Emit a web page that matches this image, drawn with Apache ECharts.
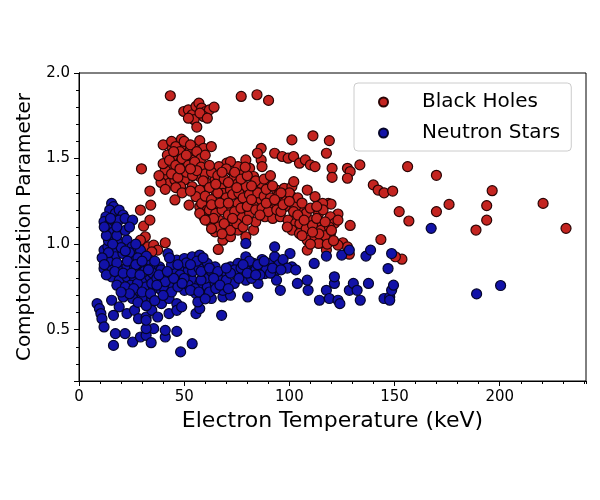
<!DOCTYPE html>
<html>
<head>
<meta charset="utf-8">
<script src="https://cdn.jsdelivr.net/npm/echarts@6/dist/echarts.min.js"></script>
<style>
html, body { margin: 0; padding: 0; background: #fff; }
#chart { width: 600px; height: 500px; }
</style>
</head>
<body>
<div id="chart"></div>
<script>
// [electron temperature keV, comptonization parameter]
var blackHoles = [
    [43.4,1.867],[77.1,1.863],[84.6,1.873],[90.1,1.84],
    [49.8,1.775],[52,1.785],[53.8,1.756],[55.6,1.805],[57,1.824],[58.3,1.795],[60.2,1.775],[62,1.785],[64.2,1.80],[59.2,1.746],[54.7,1.727],[56,1.684],[52,1.736],[57.5,1.766],[61,1.736],
    [48.7,1.613],[43.8,1.574],[46.6,1.55],[50.1,1.57],[52.9,1.55],[55.6,1.57],[57.4,1.605],[59.2,1.56],[62.9,1.57],[45.6,1.51],[48.3,1.48],[52,1.51],[54.7,1.49],[50.8,1.453],[47.4,1.434],[43.7,1.453],[41,1.395],[42.8,1.355],[45.6,1.375],[41,1.434],[55.6,1.443],
    [29.7,1.44],[33.7,1.31],[34.1,1.228],[29.2,1.199],[30.7,1.105],[31.5,1.043],[29.2,1.023],[33.7,1.14],[32.8,0.984],[35.5,0.994],[37.4,0.965],[34.6,0.955],[41,1.008],[45.6,1.258],[52.3,1.228],[66.2,0.969],
    [57.4,1.395],[61,1.355],[64.7,1.375],[67.5,1.336],[70.2,1.473],[72,1.434],[73.8,1.395],[75.6,1.453],[78.4,1.414],[81.1,1.443],[83,1.395],[86.6,1.492],[87,1.453],[86.6,1.56],[93,1.531],[96.6,1.512],[99.4,1.502],[102,1.512],[104.8,1.473],[107.6,1.492],[110,1.463],[112.2,1.453],[101.2,1.609],[111.2,1.633],[119,1.605],[117.6,1.531],[120.3,1.443],[120.3,1.39],[127.6,1.443],[128.9,1.424],[127.6,1.385],[133.5,1.463],[156.2,1.453],[169.9,1.402],[139.9,1.346],[142.2,1.316],[145,1.30],[149.1,1.31],[196.4,1.312],[175.9,1.232],[193.8,1.225],[193.8,1.14],[188.7,1.082],[169.9,1.19],[152.2,1.19],[156.8,1.135],[220.6,1.238],[231.5,1.092],[143.5,1.027],[153.5,0.912],[150.4,0.926],[128.9,1.109],[123.1,1.176],[118.5,1.238],[119.8,1.234],[125.4,1.008],[127.6,0.984],[128.5,0.941],
    [64.7,1.316],[68.4,1.297],[72,1.316],[75.6,1.355],[79.3,1.336],[83,1.316],[86.6,1.355],[90.3,1.336],[93.9,1.316],[97.6,1.326],[101.2,1.336],[102.1,1.365],
    [57.4,1.219],[61,1.258],[64.7,1.238],[68.4,1.248],[72,1.219],[75.6,1.238],[79.3,1.268],[83,1.238],[86.6,1.258],[90.3,1.219],[93.9,1.238],[97.6,1.258],[101.2,1.277],[103.9,1.238],
    [59.3,1.16],[62.9,1.121],[66.5,1.14],[70.2,1.102],[73.8,1.121],[77.5,1.16],[81.1,1.18],[88.4,1.16],[92.1,1.15],[95.7,1.16],[99.4,1.14],[103,1.121],[106.7,1.16],[110.3,1.14],[113.9,1.102],[117.6,1.121],
    [64.7,1.072],[68.4,1.023],[72,1.043],[75.6,1.082],[79.3,1.043],[83,1.082],[101.2,1.082],[104.8,1.062],[108.5,1.023],[112.2,1.043],[115.8,1.023],[119.5,1.062],[108.5,0.965],[117.6,0.965],[123.1,0.994],[113.9,1.004],
    [108.5,1.316],[112.2,1.277],[115.8,1.238],[106.7,1.199],[113.9,1.18],[103,1.219],[119.5,1.16],[121.4,1.121],[123.1,1.14],
    [50.1,1.375],[53.8,1.336],[57.4,1.316],[48.3,1.336],[55.6,1.277],[58.3,1.238],[61,1.199],[57.4,1.18],
    [66.5,1.453],[72,1.482],[79.3,1.492],[84.8,1.531],
    [40,1.58],[42,1.52],[44,1.60],[46,1.57],[48,1.54],[50,1.60],[53,1.58],[56,1.54],[58,1.50],[60,1.52],[40,1.47],[43,1.49],[46,1.46],[49,1.50],[52,1.46],[55,1.48],[58,1.45],[39,1.36],[44,1.41],[47,1.39],[51,1.42],[54,1.40],[60,1.41],[38,1.40],[41,1.32],[46,1.33],[49,1.30],[53,1.31],
    [56,1.43],[59,1.37],[62,1.33],[63,1.42],[66,1.40],[69,1.38],[70,1.44],[74,1.42],[77,1.38],[80,1.40],[84,1.37],[88,1.38],[91,1.40],[60,1.28],[63,1.26],[66,1.30],[70,1.27],[73,1.29],[76,1.30],[78,1.27],[81,1.29],[85,1.30],[88,1.28],[91,1.27],[62,1.20],[65,1.18],[68,1.20],[71,1.17],[74,1.19],[77,1.21],[80,1.22],[84,1.20],[87,1.21],[90,1.19],[94,1.20],[66,1.10],[69,1.12],[72,1.08],[75,1.12],[78,1.10],[64,1.15],[68,1.06],[84,1.13],[86,1.17],
    [95,1.29],[98,1.22],[100,1.30],[102,1.19],[104,1.27],[106,1.24],[108,1.18],[110,1.21],[105,1.12],[108,1.09],[111,1.11],[113,1.15],[115,1.08],[117,1.05],[119,1.10],[114,1.06],[118,1.00],[121,1.02],[110,1.00],[116,1.20],[96,1.19],[99,1.10],
    [45,1.54],[51,1.52],[48,1.44],[53,1.44],[62,1.46],[65,1.35],[68,1.42],[71,1.36],[75,1.33],[79,1.45],[82,1.34],[89,1.32],[92,1.34],[96,1.30],[63,1.23],[67,1.24],[71,1.24],[82,1.26],[89,1.24],[93,1.26],[97,1.23],[100,1.25],[60,1.14],[63,1.09],[73,1.15],[80,1.14],[104,1.17],[107,1.14],[111,1.07],[106,1.05],[113,1.22],[117,1.13],[120,1.08]
];

var neutronStars = [
    [15.5,1.238],[16.4,1.219],[14.6,1.199],[17.3,1.18],[19.1,1.199],[20.9,1.17],[12.8,1.16],[11.9,1.131],[14.6,1.121],[17.3,1.14],[13.7,1.092],[16.4,1.072],[19.1,1.14],[21.9,1.15],[25.5,1.14],
    [11.9,0.965],[13.7,0.984],[16.4,0.965],[19.1,1.004],[22.8,1.023],[25.2,0.984],[12.8,0.916],[17.3,0.926],[20.9,0.945],[26.4,0.926],[29.2,0.965],[11.9,0.857],[15.5,0.867],[19.1,0.848],[22.8,0.867],[26.4,0.867],[30.2,0.887],[33.7,0.906],[35.5,0.867],[37.4,0.828],[15.5,0.809],[19.1,0.789],[22.8,0.809],[26.4,0.799],[30.2,0.789],[33.7,0.809],[39.2,0.789],[41.9,0.809],[24.6,0.76],[28.3,0.73],[31.9,0.75],[35.5,0.74],[39.2,0.73],[42.8,0.77],[21,0.691],[25.5,0.682],[30.2,0.691],[34.6,0.682],[39.2,0.652],[42.8,0.682],[46.5,0.652],
    [8.6,0.652],[9.7,0.623],[10.4,0.594],[10.9,0.564],[11.9,0.516],[15.5,0.672],[16.4,0.584],[19.1,0.633],[22.8,0.594],[26.4,0.613],[28.3,0.564],[31.9,0.574],[34.6,0.613],[37.4,0.574],[42.8,0.594],[46.5,0.613],[48.8,0.633],[17.3,0.477],[21.9,0.477],[16.4,0.408],[25.5,0.428],[29.2,0.457],[31.9,0.467],[34.3,0.424],[35.5,0.506],[31.9,0.506],[41,0.457],[41,0.496],[46.5,0.49],[48.3,0.37],[53.8,0.418],[31.9,0.555],
    [42.3,0.945],[46.5,0.906],[50.1,0.916],[53.8,0.926],[57.4,0.936],[61,0.887],[64.7,0.867],[48.3,0.867],[52,0.848],[55.6,0.867],[59.2,0.828],[46.5,0.789],[50.1,0.77],[53.8,0.789],[57.4,0.77],[61,0.75],[64.7,0.77],[50.1,0.73],[55.6,0.711],[59.2,0.701],[62.9,0.682],[68.4,0.691],[72,0.701],[73.8,0.77],[68.4,0.73],[68.4,0.828],[72,0.867],[75.6,0.887],[79.3,0.926],[79.3,1.004],[83,0.887],[86.6,0.867],[90.3,0.887],[93,0.926],[93,0.984],[93.9,0.848],[97.6,0.867],[101.2,0.867],[100.3,0.945],[75.6,0.828],[79.3,0.789],[83,0.809],[79.3,0.848],[88.4,0.828],[93.9,0.789],[85.1,0.77],[80.2,0.691],[67.8,0.584],[55.6,0.594],[57.4,0.623],[56.5,0.662],[95.7,0.73],[103.8,0.77],[108.9,0.73],[111.8,0.887],[114.3,0.672],[117.6,0.73],[117.6,0.93],[119,0.682],[121.4,0.77],[123.1,0.672],[124,0.652],[124.9,0.936],[128.5,0.965],[128.5,0.73],[130.4,0.77],[132.2,0.73],[133.7,0.672],[136.4,0.93],[137.6,0.77],[138.6,0.965],[145,0.682],[146.9,0.857],[147.7,0.691],[148.6,0.73],[149.5,0.76],[148.6,0.945],[147.7,0.672],[167.4,1.092],[189,0.709],[200.4,0.758],[121.4,0.809],[108.5,0.789],
    [31,0.848],[34.6,0.77],[38.3,0.867],[27.8,0.77],[40.1,0.75],
    [14,1.02],[18,1.05],[22,1.08],[24,1.10],[13,1.05],[20,0.98],[24,0.95],[28,0.92],[32,0.93],[14,0.90],[18,0.89],[23,0.90],[27,0.88],[31,0.84],[35,0.83],[39,0.85],[13,0.82],[17,0.84],[21,0.83],[25,0.83],[29,0.82],[33,0.85],[37,0.80],[41,0.78],[18,0.76],[22,0.75],[26,0.74],[30,0.72],[34,0.71],[37,0.76],[44,0.72],[28,0.66],[32,0.64],[36,0.67],[40,0.70],[24,0.71],[20,0.72],
    [45,0.85],[48,0.82],[51,0.89],[54,0.84],[57,0.86],[60,0.80],[63,0.84],[66,0.80],[47,0.75],[52,0.76],[55,0.74],[58,0.79],[62,0.72],[65,0.74],[70,0.79],[50,0.80],[44,0.88],[56,0.90],[59,0.92],
    [74,0.85],[77,0.86],[81,0.90],[84,0.85],[87,0.91],[89,0.86],[91,0.83],[95,0.88],[97,0.91],[99,0.86],[103,0.85],[76,0.80],[72,0.83],[82,0.80],[86,0.82],
    [43,0.92],[47,0.88],[53,0.88],[58,0.84],[62,0.86],[66,0.84],[70,0.86],[45,0.80],[49,0.77],[53,0.73],[57,0.72],[60,0.68],[64,0.80],[67,0.76],[71,0.74],[78,0.88],[85,0.88],[88,0.90],[92,0.86],[96,0.85],[80,0.83],[84,0.82],[12,1.10],[15,1.15],[18,1.10],[16,1.00],[22,0.96],[27,1.00],[30,0.90],[36,0.90],[38,0.82],[42,0.84],[14,0.95],[11,0.92],[12,0.88]
];

var seriesNames = ['Black Holes', 'Neutron Stars'];
var xRange = [0, 241];
var yRange = [0.2, 2.0];

var FONT = 'DejaVu Sans';

var chart = echarts.init(document.getElementById('chart'), null, { renderer: 'canvas' });

var lineStyle = { color: '#000', width: 1 };

var option = {
    backgroundColor: '#fff',
    animation: false,
    grid: {
        left: 79, right: 14, top: 73, bottom: 119,
        show: true, borderColor: '#000', borderWidth: 1, backgroundColor: 'transparent'
    },
    legend: {
        data: seriesNames,
        orient: 'vertical',
        left: 354, top: 83,
        padding: [9, 11, 8, 24],
        itemGap: 11,
        itemWidth: 9, itemHeight: 9,
        icon: 'circle',
        backgroundColor: 'rgba(255,255,255,0.85)',
        borderColor: '#cccccc', borderWidth: 1, borderRadius: 4,
        textStyle: { fontFamily: FONT, fontSize: 20, color: '#000', padding: [0, 0, 0, 29] }
    },
    xAxis: [{
        // minor ticks
        type: 'value', min: xRange[0], max: xRange[1], interval: 10,
        axisLine: { lineStyle: lineStyle },
        axisTick: { length: 3, lineStyle: lineStyle },
        axisLabel: { show: false },
        splitLine: { show: false }
    }, {
        type: 'value', min: xRange[0], max: xRange[1], interval: 50, position: 'bottom',
        name: 'Electron Temperature (keV)', nameLocation: 'middle', nameGap: 28,
        nameTextStyle: { fontFamily: FONT, fontSize: 22, color: '#000' },
        axisLine: { lineStyle: lineStyle },
        axisTick: { length: 5, lineStyle: lineStyle },
        axisLabel: { fontFamily: FONT, fontSize: 15, color: '#000', margin: 9, showMaxLabel: false },
        splitLine: { show: false }
    }],
    yAxis: [{
        // minor ticks
        type: 'value', min: yRange[0], max: yRange[1], interval: 0.1,
        axisLine: { lineStyle: lineStyle },
        axisTick: { length: 3, lineStyle: lineStyle },
        axisLabel: { show: false },
        splitLine: { show: false }
    }, {
        type: 'value', min: yRange[0], max: yRange[1], splitNumber: 4, position: 'left',
        name: 'Comptonization Parameter', nameLocation: 'middle', nameGap: 42,
        nameTextStyle: { fontFamily: FONT, fontSize: 20, color: '#000' },
        axisLine: { lineStyle: lineStyle },
        axisTick: { length: 5, lineStyle: lineStyle },
        axisLabel: {
            fontFamily: FONT, fontSize: 15, color: '#000', margin: 9,
            formatter: function (v) {
                return Math.abs(v * 2 - Math.round(v * 2)) < 1e-6 ? v.toFixed(1) : '';
            }
        },
        splitLine: { show: false }
    }],
    series: [{
        name: seriesNames[0], type: 'scatter', data: blackHoles,
        xAxisIndex: 1, yAxisIndex: 1,
        symbolSize: 10,
        itemStyle: { color: '#c42420', borderColor: '#2a0505', borderWidth: 1.2, opacity: 1 }
    }, {
        name: seriesNames[1], type: 'scatter', data: neutronStars,
        xAxisIndex: 1, yAxisIndex: 1,
        symbolSize: 10,
        itemStyle: { color: '#1212a8', borderColor: '#05052a', borderWidth: 1.2, opacity: 1 }
    }]
};

chart.setOption(option);
</script>
</body>
</html>
